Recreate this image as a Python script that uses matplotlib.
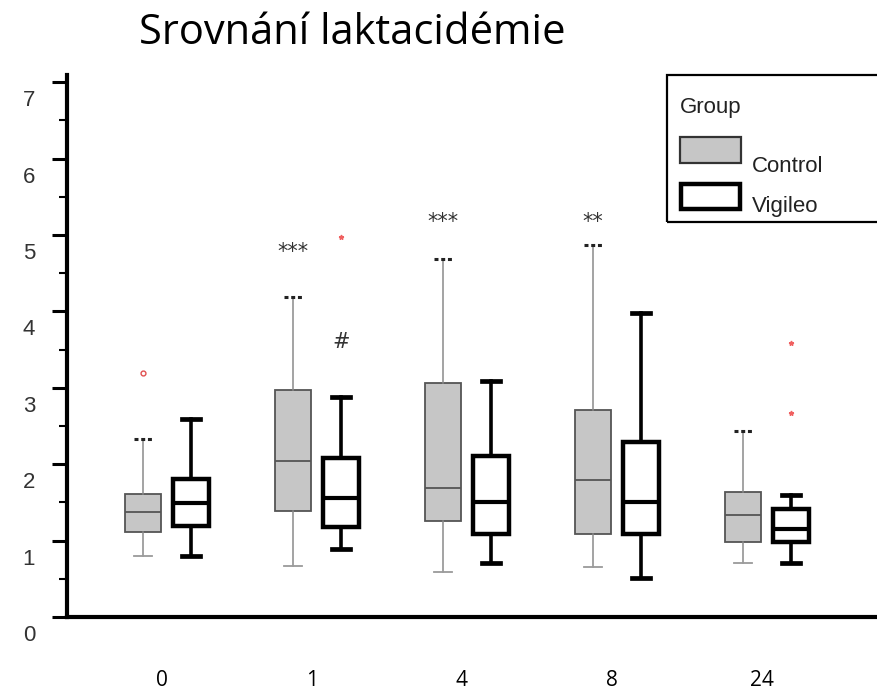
import numpy as np
import matplotlib
matplotlib.use("Agg")
import matplotlib.pyplot as plt
from matplotlib.patches import Rectangle
from matplotlib.transforms import ScaledTranslation

# lactate (mmol/l) by time point, five-number summaries per group
categories = ['0', '1', '4', '8', '24']

ctrl_lo = [0.80, 0.67, 0.59, 0.65, 0.71]
ctrl_q1 = [1.11, 1.39, 1.26, 1.09, 0.98]
ctrl_med = [1.37, 2.04, 1.69, 1.79, 1.34]
ctrl_q3 = [1.61, 2.97, 3.06, 2.71, 1.64]
ctrl_hi = [2.33, 4.19, 4.69, 4.87, 2.43]
ctrl_out = [[3.19], [], [], [], []]

vig_lo = [0.80, 0.89, 0.71, 0.51, 0.71]
vig_q1 = [1.19, 1.18, 1.09, 1.09, 0.98]
vig_med = [1.49, 1.56, 1.51, 1.51, 1.15]
vig_q3 = [1.81, 2.08, 2.11, 2.29, 1.41]
vig_hi = [2.59, 2.88, 3.09, 3.98, 1.60]
vig_out = [[], [4.97], [], [], [3.59, 2.67]]

# significance marks: (category index, group, y, text)
marks = [(1, 'ctrl', 4.78, '***'), (1, 'vig', 3.60, '#'),
         (2, 'ctrl', 5.17, '***'), (3, 'ctrl', 5.17, '**')]


def stats(lo, q1, med, q3, hi, out):
    return [dict(whislo=a, q1=b, med=c, q3=d, whishi=e, fliers=f)
            for a, b, c, d, e, f in zip(lo, q1, med, q3, hi, out)]


W, H = 877, 693
fig = plt.figure(figsize=(W / 100, H / 100), dpi=100)
ax = fig.add_axes([67 / W, 1 - 617 / H, 1 - 67 / W, (617 - 74.6) / H])

pos = np.arange(1, len(categories) + 1)
off = 0.16
bw = 0.235

c = ax.bxp(stats(ctrl_lo, ctrl_q1, ctrl_med, ctrl_q3, ctrl_hi, ctrl_out),
           positions=pos - off, widths=bw, capwidths=0.12, patch_artist=True,
           boxprops=dict(facecolor='#c6c6c6', edgecolor='#555555', linewidth=1.3),
           medianprops=dict(color='#555555', linewidth=1.3),
           whiskerprops=dict(color='#8a8a8a', linewidth=1.1),
           capprops=dict(color='#9a9a9a', linewidth=1.3),
           flierprops=dict(marker='o', markersize=3.5, markerfacecolor='none',
                           markeredgecolor='#e05050', markeredgewidth=1.0))
# upper caps of the control group are drawn dotted
for cap in c['caps'][1::2]:
    cap.set_color('#222222')
    cap.set_linewidth(2.2)
    cap.set_linestyle((0, (1.3, 0.9)))

v = ax.bxp(stats(vig_lo, vig_q1, vig_med, vig_q3, vig_hi, vig_out),
           positions=pos + off, widths=bw, capwidths=0.12, patch_artist=True,
           boxprops=dict(facecolor='white', edgecolor='black', linewidth=3.2),
           medianprops=dict(color='black', linewidth=3.0),
           whiskerprops=dict(color='black', linewidth=2.6),
           capprops=dict(color='black', linewidth=3.4),
           flierprops=dict(marker='*', markersize=3.5, markerfacecolor='#f06060',
                           markeredgecolor='#f06060'))

for i, grp, y, txt in marks:
    x = pos[i] - off if grp == 'ctrl' else pos[i] + off
    ax.text(x, y, txt, ha='center', va='center', fontsize=15,
            color='#333333', family='DejaVu Sans')

ax.set_xlim(1 - 100 / 150, 5 + 110 / 150)
ax.set_ylim(0, 7.1)

for s in ['top', 'right']:
    ax.spines[s].set_visible(False)
ax.spines['left'].set_linewidth(3)
ax.spines['bottom'].set_linewidth(3)

ax.set_yticks(range(0, 8))
ax.set_yticks(np.arange(0.5, 7, 1), minor=True)
ax.tick_params(axis='y', which='major', length=11, width=2.2, pad=12,
               labelsize=16)
ax.tick_params(axis='y', which='minor', length=6, width=1.5)
for lab in ax.get_yticklabels():
    lab.set_fontfamily('Liberation Sans')
    lab.set_color('#333333')
    lab.set_transform(lab.get_transform() +
                      ScaledTranslation(0, -0.16, fig.dpi_scale_trans))

ax.set_xticks(pos)
ax.set_xticklabels(categories)
ax.tick_params(axis='x', length=0, pad=38, labelsize=15)
for lab in ax.get_xticklabels():
    lab.set_fontfamily('Open Sans')
    lab.set_transform(lab.get_transform() +
                      ScaledTranslation(-0.05, 0, fig.dpi_scale_trans))

fig.text(352 / W, 1 - 33 / H, 'Srovnání laktacidémie', ha='center',
         va='center', fontsize=30, family='Open Sans')


# legend drawn in figure pixel coordinates
def fx(px):
    return px / W


def fy(py):
    return 1 - py / H


fig.patches.append(Rectangle((fx(667), fy(222)), fx(900) - fx(667),
                             fy(75) - fy(222), transform=fig.transFigure,
                             fill=False, edgecolor='black', linewidth=1.6))
fig.patches.append(Rectangle((fx(680), fy(163)), fx(741) - fx(680),
                             fy(137) - fy(163), transform=fig.transFigure,
                             facecolor='#c6c6c6', edgecolor='#333333',
                             linewidth=1.6))
fig.patches.append(Rectangle((fx(681), fy(209)), fx(740) - fx(681),
                             fy(184) - fy(209), transform=fig.transFigure,
                             facecolor='white', edgecolor='black',
                             linewidth=3.2))
fig.text(fx(680), fy(107), 'Group', ha='left', va='center', fontsize=16,
         family='Liberation Sans', color='#222222')
fig.text(fx(752), fy(166), 'Control', ha='left', va='center', fontsize=16,
         family='Liberation Sans', color='#222222')
fig.text(fx(752), fy(206), 'Vigileo', ha='left', va='center', fontsize=16,
         family='Liberation Sans', color='#222222')

fig.savefig('out.png', dpi=100)
